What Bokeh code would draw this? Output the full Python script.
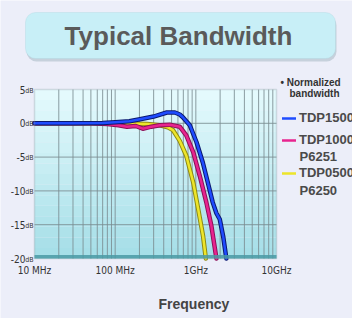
from bokeh.plotting import figure
from bokeh.models import Legend, LegendItem, Label, BoxAnnotation, Range1d
from bokeh.core.properties import value
from bokeh.embed import file_html
from bokeh.resources import INLINE

# ---- data (frequency in MHz, response in dB) ----
tdp1500_f = [10, 30, 70, 100, 150, 203, 300, 437, 550, 632, 690, 843, 1020, 1220, 1410, 1620, 1800, 1980, 2180, 2390]
tdp1500_db = [0, 0, 0.05, 0.15, 0.3, 0.6, 1.0, 1.6, 1.6, 1.3, 0.9, -0.3, -2.8, -5.8, -8.8, -11.7, -13.3, -14.2, -16.7, -20]

tdp1000_f = [10, 50, 80, 110, 140, 180, 220, 280, 358, 476, 632, 762, 930, 1120, 1350, 1560, 1800]
tdp1000_db = [0, 0, -0.1, -0.3, -0.5, -0.4, -0.8, -0.5, -0.3, -0.2, -0.5, -1.8, -4.3, -7.8, -11.7, -15.2, -20]

tdp0500_f = [10, 100, 250, 358, 450, 520, 632, 762, 930, 1070, 1230, 1330]
tdp0500_db = [0, 0, -0.1, -0.3, -0.6, -1.0, -2.6, -4.8, -8.8, -12.7, -16.7, -20]

x_lim = [10, 10000]
y_lim = [-20, 5]
x_ticks = [10, 100, 1000, 10000]
x_tick_labels = ["10 MHz", "100 MHz", "1GHz", "10GHz"]
x_minor = [m * d for d in (10, 100, 1000) for m in range(2, 10)]
y_ticks = [-20, -15, -10, -5, 0, 5]
y_tick_labels = ["-20", "-15", "-10", "-5", "0", "5"]
y_unit = "dB"

# ---- layout (pixels) ----
W, H = 352, 318
PL, PR, PT, PB = 34, 276, 89, 258          # plot-area edges in canvas pixels
dec_px = (PR - PL) / 3.0
db_px = (PB - PT) / 25.0
x_start = 10 ** (1 - PL / dec_px)
x_end = 10 ** (4 + (W - PR) / dec_px)
y_start = -20 - (H - PB) / db_px
y_end = 5 + PT / db_px

p = figure(width=W, height=H, x_axis_type="log", x_axis_location=None, y_axis_location=None,
           x_range=Range1d(x_start, x_end), y_range=Range1d(y_start, y_end),
           output_backend="svg", toolbar_location=None,
           min_border=0, min_border_left=0, min_border_right=0, min_border_top=0, min_border_bottom=0)
p.border_fill_color = "#eceef9"
p.background_fill_color = "#eceef9"
p.outline_line_color = None
p.grid.visible = False

# plot area gradient
nb = 16
top_c = (228, 250, 253)
bot_c = (166, 223, 232)
span = (y_lim[1] - y_lim[0]) / nb
for i in range(nb):
    t = i / (nb - 1)
    c = tuple(int(top_c[k] + (bot_c[k] - top_c[k]) * t) for k in range(3))
    p.add_layout(BoxAnnotation(left=x_lim[0], right=x_lim[1], top=y_lim[1] - i * span,
                               bottom=y_lim[1] - (i + 1) * span,
                               fill_color="#%02x%02x%02x" % c, fill_alpha=1, line_alpha=0, level="image"))

# grid lines (from tick values, bounded by the axis limits)
gx = x_minor + x_ticks[1:-1]
p.segment(x0=gx, y0=[y_lim[0]] * len(gx), x1=gx, y1=[y_lim[1]] * len(gx),
          line_color="#7a8c90", line_alpha=0.85, line_width=1)
gy = y_ticks[1:-1]
p.segment(x0=[x_lim[0]] * len(gy), y0=gy, x1=[x_lim[1]] * len(gy), y1=gy,
          line_color="#7a8c90", line_alpha=0.85, line_width=1)

# frame outline and bottom shadow
p.add_layout(BoxAnnotation(left=x_lim[0], right=x_lim[1], top=y_lim[1], bottom=y_lim[0],
                           fill_alpha=0, line_color="#8a9ca2", line_width=1.5))
p.add_layout(BoxAnnotation(left=x_lim[0], right=x_lim[1], top=y_lim[0] + 0.5, bottom=y_lim[0],
                           fill_color="#4a9aa4", fill_alpha=0.85, line_alpha=0))

# curves with dark outlines
series = [
    (tdp0500_f, tdp0500_db, "#8d8a12", "#ede52a"),
    (tdp1000_f, tdp1000_db, "#8c1058", "#e8248f"),
    (tdp1500_f, tdp1500_db, "#0a1870", "#1f4cff"),
]
rends = []
for f, db, dark, col in series:
    p.line(f, db, line_color=dark, line_width=4.5, line_join="round", line_cap="round")
    r = p.line(f, db, line_color=col, line_width=2.5, line_join="round", line_cap="round")
    rends.append(r)

# tick labels
tick_font = value("'Liberation Sans Narrow', 'DejaVu Sans Condensed', 'Liberation Sans'")
p.text(x=x_ticks, y=[y_lim[0]] * len(x_ticks), text=x_tick_labels, y_offset=6,
       text_font=tick_font, text_font_size="10px", text_color="#333333",
       text_align="center", text_baseline="top")
p.text(x=[x_lim[0]] * len(y_ticks), y=y_ticks, text=y_tick_labels, x_offset=-9,
       text_font=tick_font, text_font_size="10px", text_color="#333333",
       text_align="right", text_baseline="middle")
p.text(x=[x_lim[0]] * len(y_ticks), y=y_ticks, text=[y_unit] * len(y_ticks), x_offset=-1, y_offset=1,
       text_font=tick_font, text_font_size="7px", text_color="#333333",
       text_align="right", text_baseline="middle")

def lab(text, x, y, size, color="#4a4a4a", align="left", style="bold"):
    # x, y in canvas pixels from top-left
    p.add_layout(Label(text=text, x=x, y=H - y, x_units="screen", y_units="screen",
                       text_font="Liberation Sans", text_font_style=style, text_font_size=size,
                       text_color=color, text_align=align, text_baseline="middle"))

# legends
legend_specs = [("TDP1500", rends[2], 118), ("TDP1000", rends[1], 140), ("TDP0500", rends[0], 173)]
for name, r, cy in legend_specs:
    lg = Legend(items=[LegendItem(label=name, renderers=[r])], location=(282, H - cy - 7),
                padding=0, margin=0, spacing=0, label_height=14, glyph_height=6, glyph_width=14,
                label_standoff=3, border_line_alpha=0, background_fill_alpha=0,
                label_text_font="Liberation Sans", label_text_font_style="bold",
                label_text_font_size="13px", label_text_color="#4a4a4a")
    p.add_layout(lg)

lab("P6251", 299, 156, "13px")
lab("P6250", 299, 190, "13px")
lab("\u2022 Normalized", 280, 82, "10px", color="#333333")
lab("bandwidth", 289, 93, "10px", color="#333333")
lab("Frequency", 158, 303, "14px", color="#444444")

# title box
p.add_layout(BoxAnnotation(left=26, right=336, top=H - 15, bottom=H - 61, left_units="screen",
                           right_units="screen", top_units="screen", bottom_units="screen",
                           fill_color="#9fb3c0", fill_alpha=0.5, line_alpha=0, border_radius=10))
p.add_layout(BoxAnnotation(left=25, right=335, top=H - 12, bottom=H - 58, left_units="screen",
                           right_units="screen", top_units="screen", bottom_units="screen",
                           fill_color="#c8eff7", fill_alpha=1, line_color="#a6cfd9", line_width=1,
                           border_radius=10))
lab("Typical Bandwidth", 178, 35, "26px", color="#5a5a5a", align="center")

open("out.html", "w").write(file_html(p, INLINE))
